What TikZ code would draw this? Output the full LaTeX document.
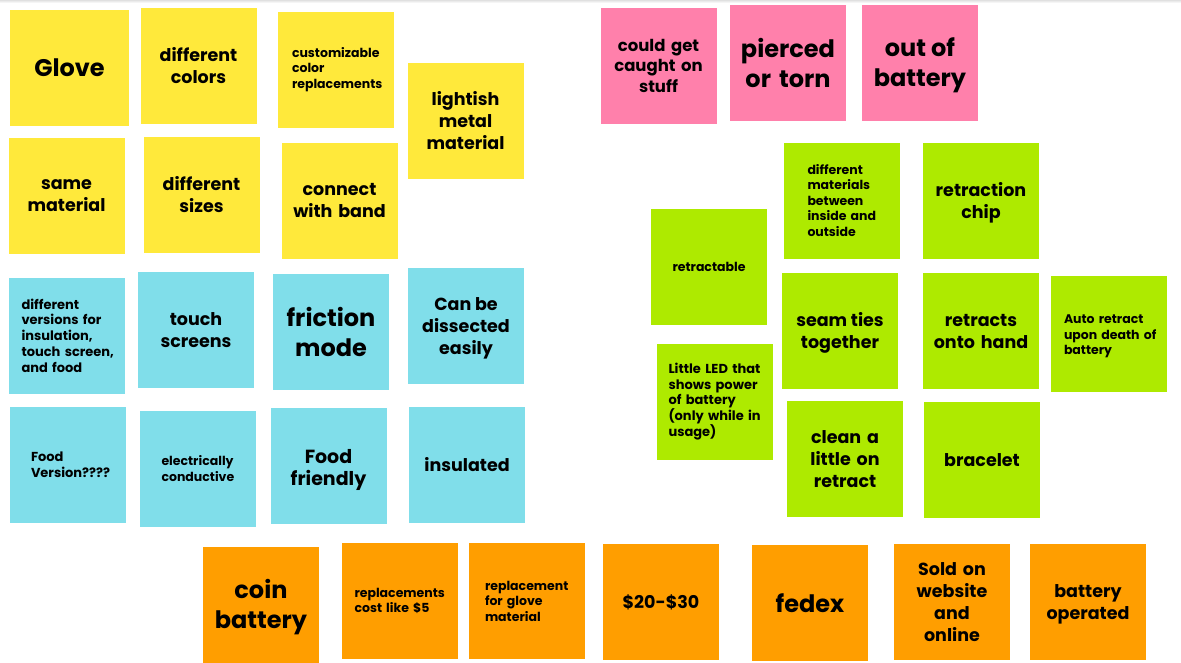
\documentclass[tikz,border=0pt]{standalone}
\usepackage{fontspec}
\setmainfont{Poppins}
\definecolor{yel}{HTML}{FFE93B}
\definecolor{blu}{HTML}{80DEEA}
\definecolor{pnk}{HTML}{FF80AB}
\definecolor{grn}{HTML}{AEEA00}
\definecolor{org}{HTML}{FF9E00}
\newcommand\szXL{\fontsize{24}{30}\selectfont}
\newcommand\szL{\fontsize{17.5}{22}\selectfont}
\newcommand\szS{\fontsize{12.5}{15.5}\selectfont}
\newcommand\szSS{\fontsize{13}{15.7}\selectfont}
\tikzset{
  note/.style={fill=#1, inner sep=0pt, minimum width=116pt, minimum height=116pt,
    align=center, text width=108pt, font=\bfseries\szL},
  big/.style={font=\bfseries\szXL},
  small/.style={font=\bfseries\szS},
  lft/.style={align=left, text width=#1},
  lbl/.style={inner sep=0pt, align=center, font=\bfseries\szL},
}
\begin{document}
\begin{tikzpicture}[x=1pt,y=-1pt]
\useasboundingbox[fill=white] (0,0) rectangle (1181,662);
\shade[top color=black!12, bottom color=white] (0,0) rectangle (1181,3);
% yellow
\node[note=yel, big, minimum width=119pt] (glove) at (69.5,68) {Glove};
\node[note=yel] (dcolors) at (198.5,66) {different\\colors};
\node[note=yel, small, lft=88pt] (custom) at (336,69.5) {customizable\\color\\replacements};
\node[note=yel] (lightish) at (465.5,121) {lightish\\metal\\material};
\node[note=yel] (samemat) at (66.5,196) {same\\material};
\node[note=yel] (dsizes) at (201.5,195) {different\\sizes};
\node[note=yel] (connect) at (339.5,200.5) {connect\\with band};
% blue
\node[note=blu, lft=90pt, font=\bfseries\szSS] (dversions) at (66.5,335.5) {different\\versions~for\\insulation,\\touch~screen,\\and~food};
\node[note=blu] (touch) at (196,330) {touch\\screens};
\node[note=blu, big] (friction) at (331,332) {friction\\mode};
\node[note=blu] (dissect) at (466,326) {};
\node[lbl] (dissect-t) at ([yshift=-2pt]dissect) {Can be\\dissected\\easily};
\node[note=blu, lft=74pt, font=\bfseries\szSS] (foodver) at (68,464.5) {Food\\Version????};
\node[note=blu, small, lft=72pt] (elec) at (197.5,468.5) {electrically\\conductive};
\node[note=blu] (foodfr) at (328.5,466) {};
\node[lbl, font=\bfseries\fontsize{19}{22.5}\selectfont] (foodfr-t) at ([yshift=-4pt]foodfr) {Food\\friendly};
\node[note=blu] (insulated) at (467,464.5) {insulated};
% pink
\node[note=pnk, font=\bfseries\fontsize{16.5}{20.5}\selectfont] (caught) at (658.5,65.5) {could get\\caught on\\stuff};
\node[note=pnk, big] (pierced) at (788,62.5) {pierced\\or torn};
\node[note=pnk] (outbat) at (920,62.5) {};
\node[lbl, font=\bfseries\szXL] (outbat-t) at ([yshift=-3pt]outbat) {out of\\battery};
% green
\node[note=grn, small] (retractable) at (709,266.5) {retractable};
\node[note=grn, small, lft=68pt] (diffmat) at (841.5,200.5) {different\\materials\\between\\inside~and\\outside};
\node[note=grn] (chip) at (981,200.5) {};
\node[lbl] (chip-t) at ([yshift=-2pt]chip) {retraction\\chip};
\node[note=grn] (seam) at (840,330.5) {};
\node[lbl] (seam-t) at ([yshift=-2pt]seam) {seam ties\\together};
\node[note=grn] (onto) at (981,331) {retracts\\onto hand};
\node[note=grn] (auto) at (1109,333.5) {};
\node[lbl, small, align=left, text width=90pt] (auto-t) at ([yshift=-3pt]auto) {Auto~retract\\upon~death~of\\battery};
\node[note=grn, lft=92pt, font=\bfseries\szSS] (led) at (714.5,401.5) {Little~LED~that\\shows~power\\of~battery\\(only~while~in\\usage)};
\node[note=grn] (clean) at (845,459) {clean a\\little on\\retract};
\node[note=grn] (bracelet) at (982,460) {bracelet};
% orange
\node[note=org] (coin) at (261,604.5) {};
\node[lbl, font=\bfseries\szXL] (coin-t) at ([yshift=-3pt]coin) {coin\\battery};
\node[note=org, small, lft=90pt] (repcost) at (399.5,601) {replacements\\cost~like~\$5};
\node[note=org, small, lft=84pt] (repglove) at (527,601) {replacement\\for~glove\\material};
\node[note=org] (price) at (661,602) {\$20-\$30};
\node[note=org, big] (fedex) at (810,603) {fedex};
\node[note=org] (sold) at (952,602) {Sold on\\website\\and\\online};
\node[note=org] (batop) at (1088,602) {};
\node[lbl] (batop-t) at ([yshift=-2pt]batop) {battery\\operated};
\end{tikzpicture}
\end{document}
